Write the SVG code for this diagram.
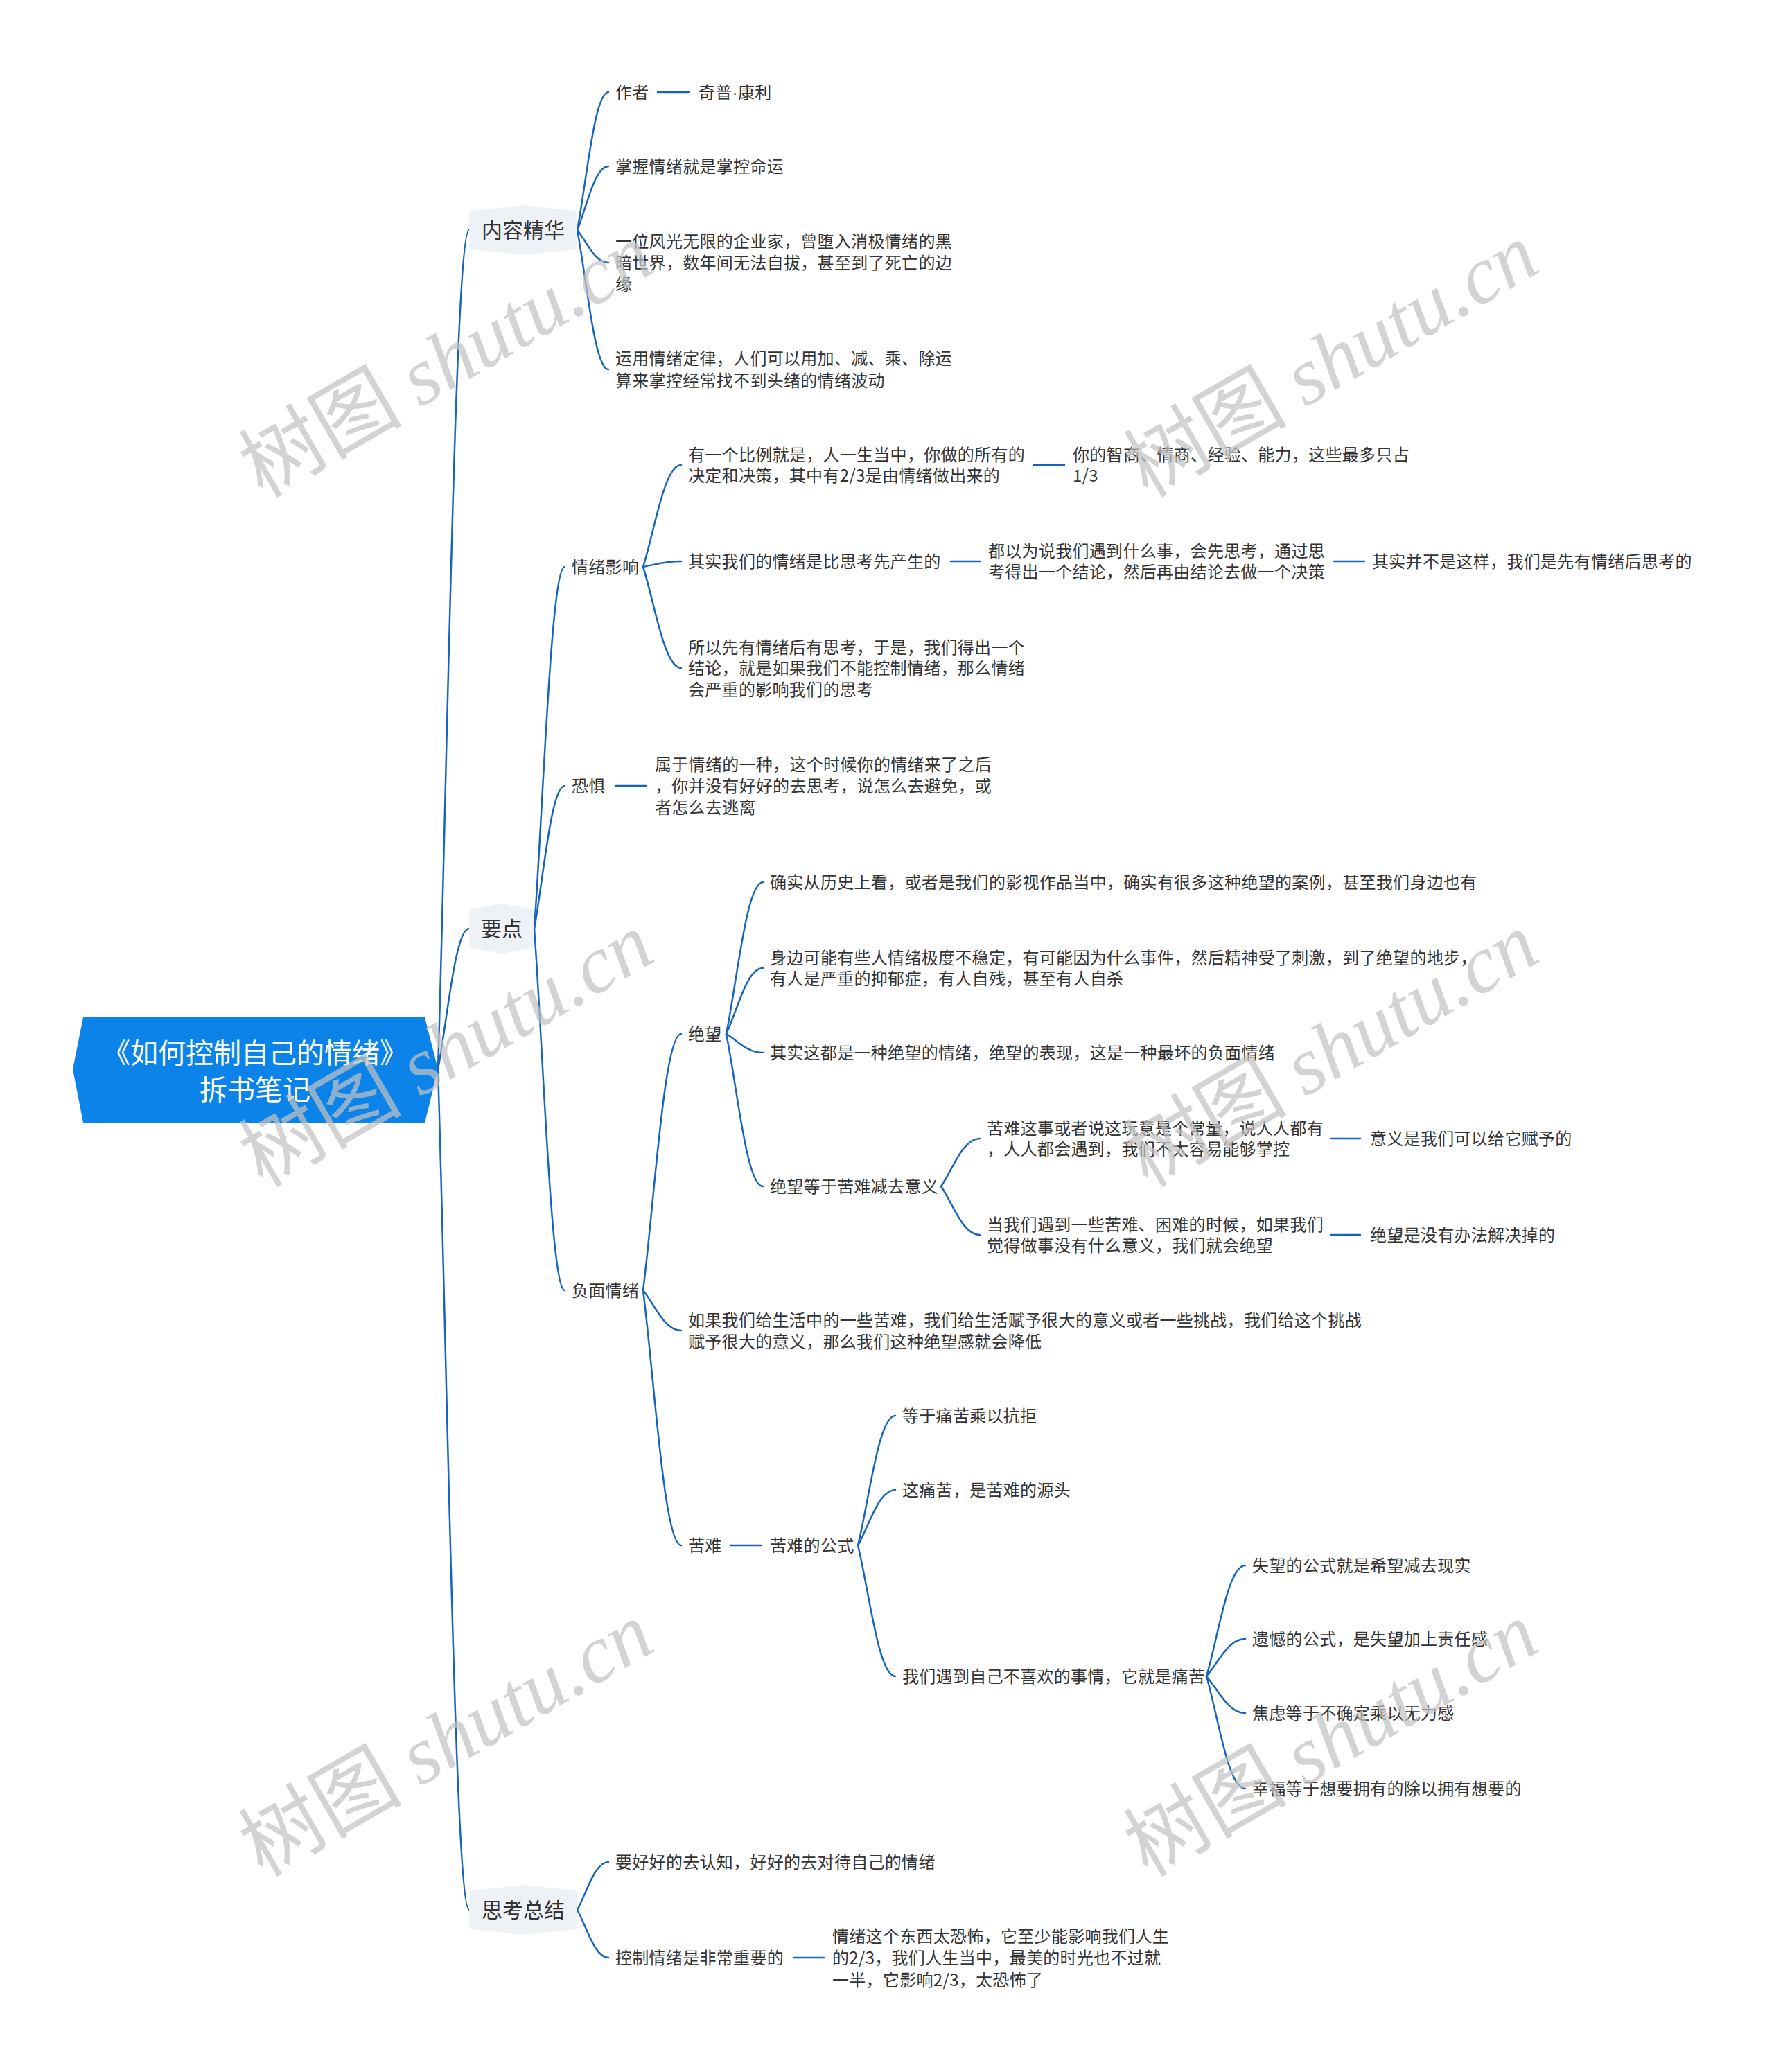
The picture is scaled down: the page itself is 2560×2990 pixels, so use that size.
<svg xmlns="http://www.w3.org/2000/svg" width="2560" height="2990" viewBox="0 0 2560 2990">
<style>
.t{font-family:"Noto Sans CJK SC","Microsoft YaHei",sans-serif;font-size:24px;fill:#333333;letter-spacing:0.3px}
.l1{font-family:"Noto Sans CJK SC","Microsoft YaHei",sans-serif;font-size:30px;fill:#333333}
.rt{font-family:"Noto Sans CJK SC","Microsoft YaHei",sans-serif;font-size:40px;fill:#ffffff}
.hex{fill:#eef1f6;stroke:#eef1f6;stroke-width:8;stroke-linejoin:round}
.c{fill:none;stroke:#1565c0;stroke-width:2.5;stroke-linecap:round}
.wm{font-family:"Noto Sans CJK SC",sans-serif;font-size:118px;fill:#c2c2c2;fill-opacity:0.72}
.wmi{font-family:"Liberation Serif",serif;font-style:italic}
</style>
<rect width="2560" height="2990" fill="#ffffff"/>
<g id="connectors">
<path class="c" d="M632 1543 C645.5 1119 656.8 332 677 332"/>
<path class="c" d="M632 1543 C645.5 1472 656.8 1340 677 1340"/>
<path class="c" d="M632 1543 C645.5 1968 656.8 2756 677 2756"/>
<path class="c" d="M833 332 C846.5 262 857.8 133 878 133"/>
<path class="c" d="M833 332 C846.5 300 857.8 240 878 240"/>
<path class="c" d="M833 332 C846.5 348 857.8 379 878 379"/>
<path class="c" d="M833 332 C846.5 402 857.8 533 878 533"/>
<path class="c" d="M771 1340 C784.2 1157 795.2 818 815 818"/>
<path class="c" d="M771 1340 C784.2 1268 795.2 1134 815 1134"/>
<path class="c" d="M771 1340 C784.2 1523 795.2 1862 815 1862"/>
<path class="c" d="M928 818 C944.5 767 958.3 671 983 671"/>
<path class="c" d="M928 818 C944.5 815 958.3 810 983 810"/>
<path class="c" d="M928 818 C944.5 869 958.3 964 983 964"/>
<path class="c" d="M928 1862 C944.5 1733 958.3 1492 983 1492"/>
<path class="c" d="M928 1862 C944.5 1882 958.3 1920 983 1920"/>
<path class="c" d="M928 1862 C944.5 1991 958.3 2230 983 2230"/>
<path class="c" d="M1048 1492 C1063.9 1415 1077.2 1273 1101 1273"/>
<path class="c" d="M1048 1492 C1063.9 1459 1077.2 1397 1101 1397"/>
<path class="c" d="M1048 1492 C1063.9 1501 1077.2 1519 1101 1519"/>
<path class="c" d="M1048 1492 C1063.9 1569 1077.2 1712 1101 1712"/>
<path class="c" d="M1358 1712 C1374.8 1688 1388.8 1643 1414 1643"/>
<path class="c" d="M1358 1712 C1374.8 1736 1388.8 1782 1414 1782"/>
<path class="c" d="M1238 2230 C1254.2 2165 1267.7 2043 1292 2043"/>
<path class="c" d="M1238 2230 C1254.2 2202 1267.7 2150 1292 2150"/>
<path class="c" d="M1238 2230 C1254.2 2296 1267.7 2419 1292 2419"/>
<path class="c" d="M1741 2419 C1757.8 2363 1771.8 2259 1797 2259"/>
<path class="c" d="M1741 2419 C1757.8 2400 1771.8 2365 1797 2365"/>
<path class="c" d="M1741 2419 C1757.8 2438 1771.8 2472 1797 2472"/>
<path class="c" d="M1741 2419 C1757.8 2476 1771.8 2581 1797 2581"/>
<path class="c" d="M833 2756 C846.5 2732 857.8 2687 878 2687"/>
<path class="c" d="M833 2756 C846.5 2780 857.8 2825 878 2825"/>
<line class="c" x1="949" y1="133" x2="994" y2="133"/>
<line class="c" x1="1492" y1="671" x2="1536" y2="671"/>
<line class="c" x1="1372" y1="810" x2="1414" y2="810"/>
<line class="c" x1="1925" y1="810" x2="1969" y2="810"/>
<line class="c" x1="888" y1="1134" x2="932" y2="1134"/>
<line class="c" x1="1921" y1="1643" x2="1963" y2="1643"/>
<line class="c" x1="1921" y1="1782" x2="1963" y2="1782"/>
<line class="c" x1="1054" y1="2230" x2="1098" y2="2230"/>
<line class="c" x1="1145" y1="2825" x2="1189" y2="2825"/>
</g>
<g id="root">
<path d="M120 1468 L613 1468 L632 1543 L613 1620 L120 1620 L105 1543 Z" fill="#0c83e8"/>
<text class="rt" x="368" y="1534" text-anchor="middle">《如何控制自己的情绪》</text>
<text class="rt" x="368" y="1587" text-anchor="middle">拆书笔记</text>
</g>
<g id="n-neirong">
<path class="hex" d="M681 308 L755 300 L829 308 L829 356 L755 364 L681 356 Z"/>
<text class="l1" x="755" y="343" text-anchor="middle">内容精华</text>
</g>
<g id="n-yaodian">
<path class="hex" d="M681 1316 L724 1308 L767 1316 L767 1364 L724 1372 L681 1364 Z"/>
<text class="l1" x="724" y="1351" text-anchor="middle">要点</text>
</g>
<g id="n-sikao">
<path class="hex" d="M681 2732 L755 2724 L829 2732 L829 2780 L755 2788 L681 2780 Z"/>
<text class="l1" x="755" y="2767" text-anchor="middle">思考总结</text>
</g>
<g id="n-zuozhe"><text class="t" x="888" y="142">作者</text></g>
<g id="n-kangli"><text class="t" x="1008" y="142">奇普<tspan font-family="Liberation Sans">·</tspan>康利</text></g>
<g id="n-zhangwo"><text class="t" x="888" y="249">掌握情绪就是掌控命运</text></g>
<g id="n-qiyejia"><text class="t" x="888" y="357">一位风光无限的企业家，曾堕入消极情绪的黑</text><text class="t" x="888" y="388">暗世界，数年间无法自拔，甚至到了死亡的边</text><text class="t" x="888" y="419">缘</text></g>
<g id="n-yunyong"><text class="t" x="888" y="526">运用情绪定律，人们可以用加、减、乘、除运</text><text class="t" x="888" y="558">算来掌控经常找不到头绪的情绪波动</text></g>
<g id="n-yingxiang"><text class="t" x="825" y="827">情绪影响</text></g>
<g id="n-bili"><text class="t" x="993" y="665">有一个比例就是，人一生当中，你做的所有的</text><text class="t" x="993" y="695">决定和决策，其中有2/3是由情绪做出来的</text></g>
<g id="n-zhishang"><text class="t" x="1548" y="665">你的智商、情商、经验、能力，这些最多只占</text><text class="t" x="1548" y="695">1/3</text></g>
<g id="n-xianchansheng"><text class="t" x="993" y="819">其实我们的情绪是比思考先产生的</text></g>
<g id="n-douyiwei"><text class="t" x="1426" y="804">都以为说我们遇到什么事，会先思考，通过思</text><text class="t" x="1426" y="834">考得出一个结论，然后再由结论去做一个决策</text></g>
<g id="n-bingbushi"><text class="t" x="1980" y="819">其实并不是这样，我们是先有情绪后思考的</text></g>
<g id="n-suoyi"><text class="t" x="993" y="943">所以先有情绪后有思考，于是，我们得出一个</text><text class="t" x="993" y="973">结论，就是如果我们不能控制情绪，那么情绪</text><text class="t" x="993" y="1004">会严重的影响我们的思考</text></g>
<g id="n-kongju"><text class="t" x="825" y="1143">恐惧</text></g>
<g id="n-kongju-c"><text class="t" x="945" y="1112">属于情绪的一种，这个时候你的情绪来了之后</text><text class="t" x="945" y="1143">，你并没有好好的去思考，说怎么去避免，或</text><text class="t" x="945" y="1174">者怎么去逃离</text></g>
<g id="n-fumian"><text class="t" x="825" y="1871">负面情绪</text></g>
<g id="n-juewang"><text class="t" x="993" y="1501">绝望</text></g>
<g id="n-lishi"><text class="t" x="1111" y="1282">确实从历史上看，或者是我们的影视作品当中，确实有很多这种绝望的案例，甚至我们身边也有</text></g>
<g id="n-shenbian"><text class="t" x="1111" y="1391">身边可能有些人情绪极度不稳定，有可能因为什么事件，然后精神受了刺激，到了绝望的地步，</text><text class="t" x="1111" y="1421">有人是严重的抑郁症，有人自残，甚至有人自杀</text></g>
<g id="n-zuihuai"><text class="t" x="1111" y="1528">其实这都是一种绝望的情绪，绝望的表现，这是一种最坏的负面情绪</text></g>
<g id="n-dengyu"><text class="t" x="1111" y="1721">绝望等于苦难减去意义</text></g>
<g id="n-changliang"><text class="t" x="1424" y="1637">苦难这事或者说这玩意是个常量，说人人都有</text><text class="t" x="1424" y="1667">，人人都会遇到，我们不太容易能够掌控</text></g>
<g id="n-fuyu"><text class="t" x="1977" y="1652">意义是我们可以给它赋予的</text></g>
<g id="n-dangwomen"><text class="t" x="1424" y="1776">当我们遇到一些苦难、困难的时候，如果我们</text><text class="t" x="1424" y="1806">觉得做事没有什么意义，我们就会绝望</text></g>
<g id="n-meiyoubanfa"><text class="t" x="1977" y="1791">绝望是没有办法解决掉的</text></g>
<g id="n-ruguo"><text class="t" x="993" y="1914">如果我们给生活中的一些苦难，我们给生活赋予很大的意义或者一些挑战，我们给这个挑战</text><text class="t" x="993" y="1945">赋予很大的意义，那么我们这种绝望感就会降低</text></g>
<g id="n-kunan"><text class="t" x="993" y="2239">苦难</text></g>
<g id="n-gongshi"><text class="t" x="1111" y="2239">苦难的公式</text></g>
<g id="n-kangju"><text class="t" x="1302" y="2052">等于痛苦乘以抗拒</text></g>
<g id="n-yuantou"><text class="t" x="1302" y="2159">这痛苦，是苦难的源头</text></g>
<g id="n-tongku"><text class="t" x="1302" y="2428">我们遇到自己不喜欢的事情，它就是痛苦</text></g>
<g id="n-shiwang"><text class="t" x="1807" y="2268">失望的公式就是希望减去现实</text></g>
<g id="n-yihan"><text class="t" x="1807" y="2374">遗憾的公式，是失望加上责任感</text></g>
<g id="n-jiaolv"><text class="t" x="1807" y="2481">焦虑等于不确定乘以无力感</text></g>
<g id="n-xingfu"><text class="t" x="1807" y="2590">幸福等于想要拥有的除以拥有想要的</text></g>
<g id="n-renzhi"><text class="t" x="888" y="2696">要好好的去认知，好好的去对待自己的情绪</text></g>
<g id="n-kongzhi"><text class="t" x="888" y="2834">控制情绪是非常重要的</text></g>
<g id="n-kongbu"><text class="t" x="1201" y="2803">情绪这个东西太恐怖，它至少能影响我们人生</text><text class="t" x="1201" y="2834">的2/3，我们人生当中，最美的时光也不过就</text><text class="t" x="1201" y="2866">一半，它影响2/3，太恐怖了</text></g>
<g id="watermark">
<text class="wm" x="644" y="560" text-anchor="middle" transform="rotate(-30 644 520)">树图 <tspan class="wmi">shutu.cn</tspan></text>
<text class="wm" x="1921" y="560" text-anchor="middle" transform="rotate(-30 1921 520)">树图 <tspan class="wmi">shutu.cn</tspan></text>
<text class="wm" x="644" y="1555" text-anchor="middle" transform="rotate(-30 644 1515)">树图 <tspan class="wmi">shutu.cn</tspan></text>
<text class="wm" x="1921" y="1555" text-anchor="middle" transform="rotate(-30 1921 1515)">树图 <tspan class="wmi">shutu.cn</tspan></text>
<text class="wm" x="644" y="2550" text-anchor="middle" transform="rotate(-30 644 2510)">树图 <tspan class="wmi">shutu.cn</tspan></text>
<text class="wm" x="1921" y="2550" text-anchor="middle" transform="rotate(-30 1921 2510)">树图 <tspan class="wmi">shutu.cn</tspan></text>
</g>
</svg>
